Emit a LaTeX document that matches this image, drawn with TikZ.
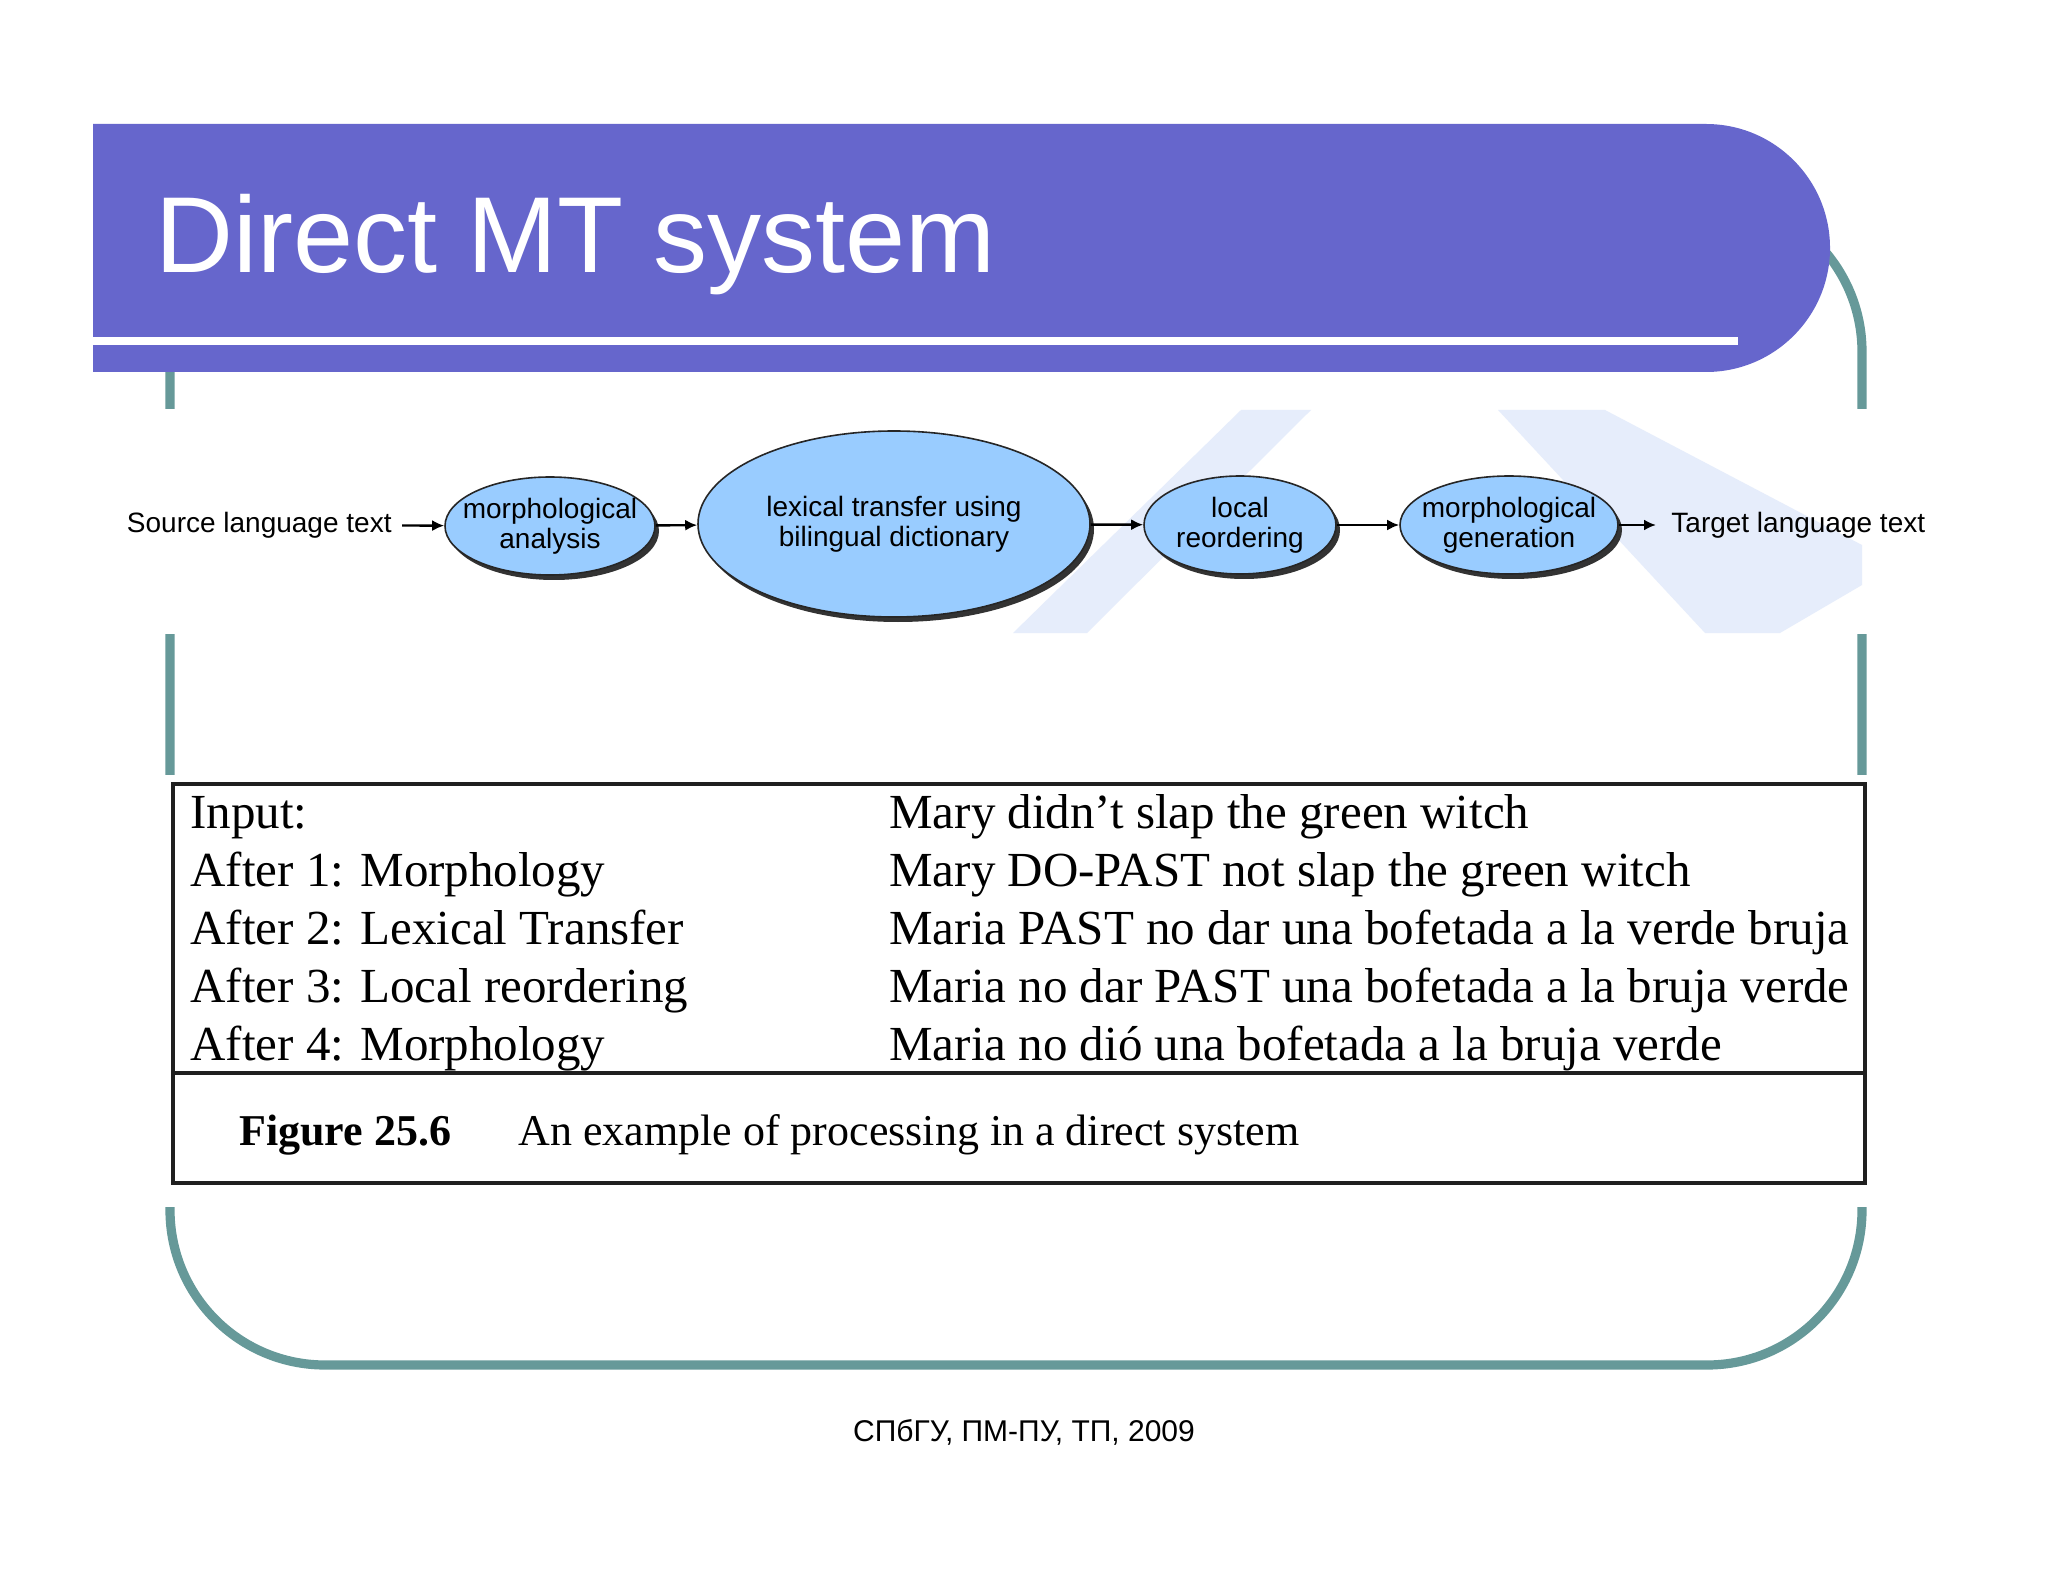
\documentclass[tikz,border=0pt]{standalone}
\usepackage{fontspec}
\setmainfont{Liberation Serif}
\newfontfamily\arialf{Liberation Sans}
\usetikzlibrary{shapes.geometric,arrows.meta,shadows}
\definecolor{bannerc}{HTML}{6666CC}
\definecolor{tealc}{HTML}{669999}
\definecolor{ellfill}{HTML}{99CCFF}
\definecolor{wmark}{HTML}{E6EDFB}
\tikzset{
  proc/.style={ellipse, draw=black!85, line width=0.8pt, fill=ellfill, inner sep=0pt,
    drop shadow={shadow xshift=2pt, shadow yshift=-2.5pt, fill=black!80, opacity=1}},
  proclabel/.style={label={[align=center, inner sep=0pt, font=\arialf\fontsize{14}{15}\selectfont]center:{#1}}},
  flowtext/.style={font=\arialf\fontsize{14}{15}\selectfont, inner ysep=0pt},
  arr/.style={-{Latex[length=6pt,width=5.5pt]}, line width=1.2pt, black},
  tline/.style={draw=black!88, line width=1.8pt},
  rowtext/.style={anchor=base west, inner sep=0pt, font=\fontsize{24.5}{28}\selectfont},
  captext/.style={anchor=base west, inner sep=0pt, font=\fontsize{22}{26}\selectfont}
}
\begin{document}
\begin{tikzpicture}[x=0.5pt,y=-0.5pt]
\useasboundingbox (0,0) rectangle (2048,1582);
\fill[white] (0,0) rectangle (2048,1582);
% teal frame
\draw[tealc, line width=4.6pt, rounded corners=77.5pt] (170,197) rectangle (1862,1365);
% gaps where the pictures cover the frame
\fill[white] (120,409) rectangle (1930,634);
\fill[white] (120,775) rectangle (1930,1207);
% faint watermark shapes
\fill[wmark] (1241,410) -- (1311,410) -- (1087,633) -- (1013,633) -- cycle;
\fill[wmark] (1498,410) -- (1605,410) -- (1862,545) -- (1862,585) -- (1780,633) -- (1705,633) -- cycle;
% banner
\fill[bannerc] (93,124) -- (1706,124) arc[start angle=-90,end angle=90,radius=124] -- (93,372) -- cycle;
\fill[white] (93,337) rectangle (1738,345);
\node[anchor=base west, text=white, inner sep=0pt, font=\arialf\fontsize{54}{60}\selectfont] (title) at (155,273) {Direct MT system};
% pipeline
\node[flowtext, anchor=east, inner xsep=5pt] (src) at (402,525) {Source language text};
\node[proc, minimum width=105pt, minimum height=49pt, proclabel={morphological\\analysis}] (e1) at (550,526) {};
\node[proc, minimum width=196pt, minimum height=93pt, proclabel={lexical transfer using\\bilingual dictionary}] (e2) at (894,524) {};
\node[proc, minimum width=96pt, minimum height=49pt, proclabel={local\\reordering}] (e3) at (1240,525) {};
\node[proc, minimum width=109pt, minimum height=49pt, proclabel={morphological\\generation}] (e4) at (1509,525) {};
\node[flowtext, anchor=west, inner xsep=7.5pt] (tgt) at (1656,525) {Target language text};
\draw[arr] (src) -- (e1);
\draw[arr] (e1) -- (e2);
\draw[arr] (e2) -- (e3);
\draw[arr] (e3) -- (e4);
\draw[arr] (e4) -- (tgt);
% table
\draw[tline] (173,784) rectangle (1865,1073);
\draw[tline] (173,1073) rectangle (1865,1183);
\node[rowtext] (l1) at (190,828) {Input:};
\node[rowtext] (l2) at (190,886) {After 1: Morphology};
\node[rowtext] (l3) at (190,944) {After 2: Lexical Transfer};
\node[rowtext] (l4) at (190,1002) {After 3: Local reordering};
\node[rowtext] (l5) at (190,1060) {After 4: Morphology};
\node[rowtext] (r1) at (889,828) {Mary didn’t slap the green witch};
\node[rowtext] (r2) at (889,886) {Mary DO-PAST not slap the green witch};
\node[rowtext] (r3) at (889,944) {Maria PAST no dar una bofetada a la verde bruja};
\node[rowtext] (r4) at (889,1002) {Maria no dar PAST una bofetada a la bruja verde};
\node[rowtext] (r5) at (889,1060) {Maria no dió una bofetada a la bruja verde};
\node[captext, font=\bfseries\fontsize{22}{26}\selectfont] (cap1) at (239,1145) {Figure 25.6};
\node[captext] (cap2) at (518,1145) {An example of processing in a direct system};
% footer
\node[anchor=base, inner sep=0pt, font=\arialf\fontsize{15}{18}\selectfont] (footer) at (1024,1441) {СПбГУ, ПМ-ПУ, ТП, 2009};
\end{tikzpicture}
\end{document}
